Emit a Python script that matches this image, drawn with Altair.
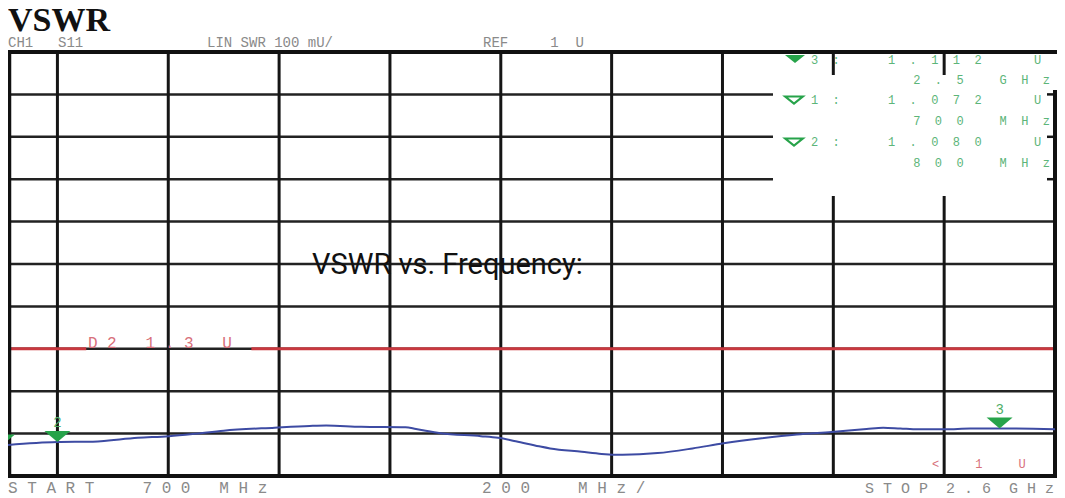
import altair as alt
import pandas as pd

# ---------------- data ----------------
freq_mhz = [700, 799, 864, 945, 1001, 1044, 1100, 1192, 1255, 1285, 1348, 1428,
            1447, 1491, 1564, 1595, 1627, 1669, 1689, 1746, 1782, 1820, 1883,
            1946, 2002, 2071, 2134, 2197, 2260, 2290, 2321, 2353, 2402, 2447,
            2510, 2600]
vswr = [1.072, 1.080, 1.081, 1.090, 1.094, 1.099, 1.107, 1.114, 1.118, 1.119,
        1.116, 1.115, 1.111, 1.101, 1.094, 1.090, 1.082, 1.070, 1.065, 1.057,
        1.052, 1.050, 1.054, 1.065, 1.077, 1.089, 1.098, 1.104, 1.111, 1.114,
        1.112, 1.110, 1.110, 1.112, 1.112, 1.110]

marker_id = [1, 2, 3]
marker_freq = [700, 800, 2500]
marker_vswr = [1.072, 1.080, 1.112]
marker_value_text = ["1.072", "1.080", "1.112"]
marker_freq_text = ["700 MHz", "800 MHz", "2.5 GHz"]

limit_vswr = 1.3
limit_text = "D2 1.3 U"

vgrid_freq = [800, 1000, 1200, 1400, 1600, 1800, 2000, 2200, 2400]
hgrid_vswr = [1.1, 1.2, 1.3, 1.4, 1.5, 1.6, 1.7, 1.8, 1.9]
x_domain = [700, 2600]
y_domain = [1.0, 2.0]

title_text = "VSWR"
overlay_text = "VSWR vs. Frequency:"
header_ch = "CH1"
header_param = "S11"
header_scale = "LIN SWR 100 mU/"
header_ref = ["REF", "1", "U"]
footer_start = ["START", "700", "MHz"]
footer_span = ["200", "MHz/"]
footer_stop = ["STOP", "2.6", "GHz"]
ref_marker_text = "< 1 U"

# ---------------- layout ----------------
W, H = 1049, 424
X_RANGE = [-6, 1047]
MONO = "Liberation Mono"
GRID = "#151515"
GREEN = "#27a34a"
TXT_GREEN = "#5cb579"
GRAY = "#8a8a8a"
RED = "#c9383f"
PINK = "#d8707a"
TRI_DOWN = "M-1,-0.85L1,-0.85L0,0Z"
TRI_BOX = "M-1,-0.4L1,-0.4L0,0.4Z"
NB = "\u00a0"


def sp(s, n=1):
    s = s.replace(" ", NB)
    return (NB * n).join(s)


def gap(n):
    return NB * n


def vx(px):
    return px - 8


def vy(py):
    return py - 52


xs = alt.Scale(domain=x_domain, range=X_RANGE, nice=False, zero=False)
ys = alt.Scale(domain=y_domain, nice=False, zero=False)
one = pd.DataFrame({"k": [0]})

trace_df = pd.DataFrame({"freq": freq_mhz, "vswr": vswr})
mk_df = pd.DataFrame({"id": marker_id, "freq": marker_freq, "vswr": marker_vswr,
                      "label": [str(i) for i in marker_id]})
vg_df = pd.DataFrame({"freq": vgrid_freq})
hg_df = pd.DataFrame({"vswr": hgrid_vswr})
lim_df = pd.DataFrame({"x0": [x_domain[0], 1150], "x1": [852, x_domain[1]],
                       "vswr": [limit_vswr, limit_vswr]})


def ptext(t, px, py, size, color, font=MONO, align="left", weight="normal"):
    return alt.Chart(one).mark_text(
        align=align, baseline="alphabetic", fontSize=size, font=font,
        color=color, fontWeight=weight
    ).encode(x=alt.value(vx(px)), y=alt.value(vy(py)), text=alt.value(t))


def prule(x1, y1, x2, y2, color=GRID, width=3):
    return alt.Chart(one).mark_rule(color=color, strokeWidth=width).encode(
        x=alt.value(x1), x2=alt.value(x2), y=alt.value(y1), y2=alt.value(y2))


layers = []

# horizontal grid
layers.append(alt.Chart(hg_df).mark_rule(color="#222", strokeWidth=2.5).encode(
    y=alt.Y("vswr:Q", scale=ys, axis=None), x=alt.value(0), x2=alt.value(W)))
# vertical grid
layers.append(alt.Chart(vg_df).mark_rule(color=GRID, strokeWidth=3).encode(
    x=alt.X("freq:Q", scale=xs, axis=None), y=alt.value(0), y2=alt.value(H)))
# limit line
layers.append(alt.Chart(lim_df).mark_rule(color=RED, strokeWidth=3).encode(
    x=alt.X("x0:Q", scale=xs, axis=None), x2="x1:Q",
    y=alt.Y("vswr:Q", scale=ys, axis=None)))
# marker box background
layers.append(alt.Chart(one).mark_rect(color="white").encode(
    x=alt.value(vx(773)), x2=alt.value(vx(1053)), y=alt.value(vy(54)), y2=alt.value(vy(196))))
# top stubs of grid lines under the box
layers.append(alt.Chart(vg_df).transform_filter("datum.freq >= 2200").mark_rule(
    color=GRID, strokeWidth=3).encode(
    x=alt.X("freq:Q", scale=xs, axis=None), y=alt.value(0), y2=alt.value(vy(75))))
# right edge stubs
layers.append(alt.Chart(hg_df).transform_filter("datum.vswr >= 1.65").mark_rule(
    color=GRID, strokeWidth=2.5).encode(
    y=alt.Y("vswr:Q", scale=ys, axis=None), x=alt.value(W - 10), x2=alt.value(W - 1)))
# frame
layers.append(prule(0, 0, W, 0, "#111", 4))
layers.append(prule(0, H, W, H, "#111", 4))
layers.append(prule(1.5, 0, 1.5, H, "#111", 3.5))
layers.append(prule(1047, vy(90), 1047, H, "#111", 4))

# trace
layers.append(alt.Chart(trace_df).mark_line(color="#3d4ba3", strokeWidth=2, interpolate="monotone").encode(
    x=alt.X("freq:Q", scale=xs, axis=None), y=alt.Y("vswr:Q", scale=ys, axis=None)))
# markers
layers.append(alt.Chart(mk_df).mark_point(shape=TRI_DOWN, filled=True, size=676,
                                          color=GREEN, opacity=1).encode(
    x=alt.X("freq:Q", scale=xs, axis=None), y=alt.Y("vswr:Q", scale=ys, axis=None)))
layers.append(alt.Chart(mk_df).transform_filter("datum.id > 1").mark_text(
    fontSize=14, font=MONO, color="#4fae68", baseline="alphabetic", dy=-15).encode(
    x=alt.X("freq:Q", scale=xs, axis=None), y=alt.Y("vswr:Q", scale=ys, axis=None),
    text="label:N"))
# limit label
layers.append(alt.Chart(pd.DataFrame({"freq": [855], "vswr": [limit_vswr], "t": [sp(limit_text)]})).mark_text(
    fontSize=16, font=MONO, color=PINK, align="left", baseline="alphabetic", dy=-1).encode(
    x=alt.X("freq:Q", scale=xs, axis=None), y=alt.Y("vswr:Q", scale=ys, axis=None), text="t:N"))

# marker readout box
order = [2, 0, 1]  # marker 3 first, then 1, 2
rows = [64, 84, 104, 125, 146, 167]
for r, idx in enumerate(order):
    yb = rows[2 * r]
    yf = rows[2 * r + 1]
    if r == 0:
        layers.append(alt.Chart(one).mark_point(shape=TRI_BOX, filled=True, size=400,
                                                color=GREEN, opacity=1).encode(
            x=alt.value(vx(795)), y=alt.value(vy(yb - 5))))
    else:
        layers.append(alt.Chart(one).mark_point(shape=TRI_BOX, filled=False, size=324,
                                                color=GREEN, strokeWidth=2, opacity=1).encode(
            x=alt.value(vx(794)), y=alt.value(vy(yb - 4))))
    layers.append(ptext(sp(f"{marker_id[idx]}:", 2), 811, yb, 12, TXT_GREEN))
    layers.append(ptext(sp(marker_value_text[idx], 2), 888, yb, 12, TXT_GREEN))
    layers.append(ptext("U", 1034, yb, 12, TXT_GREEN))
    layers.append(ptext(sp(marker_freq_text[idx], 2), 1050, yf, 12, TXT_GREEN, align="right"))

# titles and annotations
layers.append(ptext(title_text, 8, 31, 34, "#111", font="Liberation Serif", weight="bold"))
layers.append(ptext(header_ch, 8, 47, 14, GRAY))
layers.append(ptext(header_param, 58, 47, 14, GRAY))
layers.append(ptext(header_scale, 207, 47, 14, GRAY))
layers.append(ptext(header_ref[0] + gap(5) + header_ref[1] + gap(2) + header_ref[2], 483, 47, 14, GRAY))
layers.append(ptext(sp(footer_start[0]) + gap(5) + sp(footer_start[1]) + gap(3) + sp(footer_start[2]),
                    8, 493, 16, GRAY))
layers.append(ptext(sp(footer_span[0]) + gap(5) + sp(footer_span[1]), 482, 493, 16, GRAY))
layers.append(ptext(sp(footer_stop[0]) + gap(2) + sp(footer_stop[1]) + gap(2) + sp(footer_stop[2]),
                    1054, 493, 15, GRAY, align="right"))
layers.append(ptext(sp(ref_marker_text, 2), 932, 468, 12, PINK))
layers.append(ptext(overlay_text, 312, 274, 29, "#111", font="Roboto"))

chart = alt.layer(*layers).properties(
    width=W, height=H,
    autosize=alt.AutoSizeParams(type="none"),
    padding={"left": 0, "top": 44, "right": 0, "bottom": 26},
).configure_view(stroke=None)

chart.save("out.html", embed_options={"renderer": "svg", "actions": False})
